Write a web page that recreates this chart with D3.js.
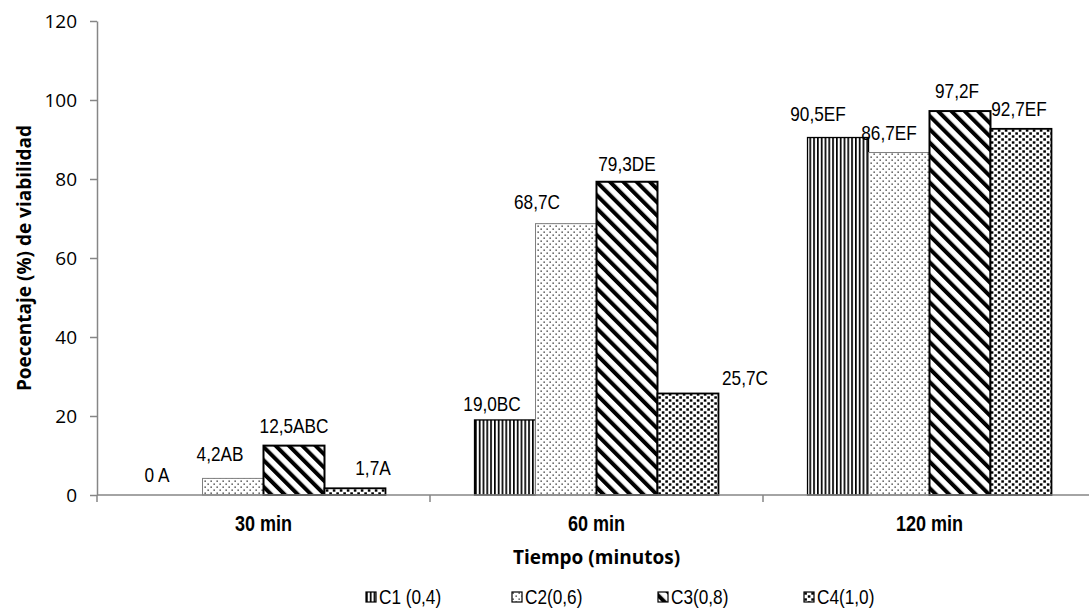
<!DOCTYPE html>
<html>
<head>
<meta charset="utf-8">
<script src="https://cdn.jsdelivr.net/npm/d3@7"></script>
<style>
  body { margin: 0; background: #fff; }
  svg { display: block; }
</style>
</head>
<body>
<div id="chart"></div>
<script>
// data
const categories = ["30 min", "60 min", "120 min"];
const seriesNames = ["C1 (0,4)", "C2(0,6)", "C3(0,8)", "C4(1,0)"];
const c1 = [0, 19.0, 90.5];
const c2 = [4.2, 68.7, 86.7];
const c3 = [12.5, 79.3, 97.2];
const c4 = [1.7, 25.7, 92.7];
const letters = [
  ["A", "AB", "ABC", "A"],
  ["BC", "C", "DE", "C"],
  ["EF", "EF", "F", "EF"]
];
const yTicks = [0, 20, 40, 60, 80, 100, 120];

// manual label nudges (the original labels were dragged by hand)
const labelDx = [[-15, -13, 0, 18], [-13, -29, 0, 57], [-20, -10, -3, -2]];
const labelDy = [[0, 4, 0, 0], [-4, 2, -2, -5], [4, 0, 0, 0]];

const width = 1089, height = 616;
const values = [c1, c2, c3, c4];

const fmt = v => v === 0 ? "0 " : d3.format(".1f")(v).replace(".", ",");

const rows = [];
categories.forEach((cat, ci) => {
  seriesNames.forEach((s, si) => {
    rows.push({cat, ci, s, si, v: values[si][ci]});
  });
});

const svg = d3.select("#chart").append("svg")
  .attr("width", width)
  .attr("height", height);

// no narrow font installed, so squeeze Liberation Sans instead
const narrow = 0.82;
const narrowFont = "'Liberation Sans', Arial, sans-serif";

// fill patterns
const defs = svg.append("defs");

const p1 = defs.append("pattern").attr("id", "pat0")
  .attr("patternUnits", "userSpaceOnUse").attr("width", 3.8).attr("height", 4);
p1.append("rect").attr("width", 3.8).attr("height", 4).attr("fill", "#fff");
p1.append("rect").attr("width", 1.7).attr("height", 4).attr("fill", "#000");

const p2 = defs.append("pattern").attr("id", "pat1")
  .attr("patternUnits", "userSpaceOnUse").attr("width", 6).attr("height", 6);
p2.append("rect").attr("width", 6).attr("height", 6).attr("fill", "#fff");
p2.append("rect").attr("x", 0.5).attr("y", 0.5).attr("width", 1.3).attr("height", 1.3).attr("fill", "#222");
p2.append("rect").attr("x", 3.5).attr("y", 3.5).attr("width", 1.3).attr("height", 1.3).attr("fill", "#222");

const p3 = defs.append("pattern").attr("id", "pat2")
  .attr("patternUnits", "userSpaceOnUse").attr("width", 9.4).attr("height", 10)
  .attr("patternTransform", "rotate(-45)");
p3.append("rect").attr("width", 9.4).attr("height", 10).attr("fill", "#fff");
p3.append("rect").attr("width", 4).attr("height", 10).attr("fill", "#000");

const p4 = defs.append("pattern").attr("id", "pat3")
  .attr("patternUnits", "userSpaceOnUse").attr("width", 7).attr("height", 6);
p4.append("rect").attr("width", 7).attr("height", 6).attr("fill", "#fff");
p4.append("rect").attr("x", 0.3).attr("y", 0.3).attr("width", 2.6).attr("height", 2.4).attr("fill", "#000");
p4.append("rect").attr("x", 3.8).attr("y", 3.3).attr("width", 2.6).attr("height", 2.4).attr("fill", "#000");

const strokes = ["#000", "#7f7f7f", "#000", "#000"];
const strokeW = [1.3, 1, 2, 1.8];

// scales
const x0 = d3.scaleBand().domain(categories).range([97, 1096]).paddingInner(0).paddingOuter(0);
const x1 = d3.scaleBand().domain(seriesNames).range([0, x0.bandwidth()]).paddingInner(0).paddingOuter(0.73);
const y = d3.scaleLinear().domain([0, 120]).range([495, 21]);

const axisColor = "#868686";

// y axis
const yAxis = svg.append("g")
  .attr("transform", "translate(97,0)")
  .call(d3.axisLeft(y).tickValues(yTicks).tickSize(7).tickSizeOuter(0).tickPadding(13));
yAxis.select(".domain").attr("stroke", axisColor).attr("stroke-width", 1.5);
yAxis.selectAll(".tick line").attr("stroke", axisColor).attr("stroke-width", 1.5);
yAxis.selectAll(".tick text")
  .attr("font-family", "'Open Sans', sans-serif")
  .attr("font-size", 19)
  .attr("fill", "#000");

// bars
svg.append("g").selectAll("rect")
  .data(rows.filter(d => d.v > 0))
  .join("rect")
  .attr("x", d => x0(d.cat) + x1(d.s))
  .attr("y", d => y(d.v))
  .attr("width", x1.bandwidth())
  .attr("height", d => y(0) - y(d.v))
  .attr("fill", d => `url(#pat${d.si})`)
  .attr("stroke", d => strokes[d.si])
  .attr("stroke-width", d => strokeW[d.si]);

// x axis
svg.append("line")
  .attr("x1", 97).attr("x2", 1096)
  .attr("y1", y(0)).attr("y2", y(0))
  .attr("stroke", axisColor).attr("stroke-width", 1.5);
const bounds = categories.map(c => x0(c)).concat([x0.range()[1]]);
svg.append("g").selectAll("line")
  .data(bounds)
  .join("line")
  .attr("x1", d => d).attr("x2", d => d)
  .attr("y1", y(0)).attr("y2", y(0) + 7)
  .attr("stroke", axisColor).attr("stroke-width", 1.5);

svg.append("g").selectAll("g")
  .data(categories)
  .join("g")
  .attr("transform", d => `translate(${x0(d) + x0.bandwidth() / 2},531) scale(${narrow},1)`)
  .append("text")
  .attr("text-anchor", "middle")
  .attr("font-family", narrowFont)
  .attr("font-weight", "bold")
  .attr("font-size", 22)
  .text(d => d);

// data labels
svg.append("g").selectAll("g")
  .data(rows)
  .join("g")
  .attr("transform", d => {
    const lx = x0(d.cat) + x1(d.s) + x1.bandwidth() / 2 + labelDx[d.ci][d.si];
    const ly = y(d.v) - 13 - labelDy[d.ci][d.si];
    return `translate(${lx},${ly}) scale(${narrow},1)`;
  })
  .append("text")
  .attr("text-anchor", "middle")
  .attr("font-family", narrowFont)
  .attr("font-size", 21)
  .text(d => fmt(d.v) + letters[d.ci][d.si]);

// axis titles
svg.append("text")
  .attr("transform", `translate(31,${(y(0) + y(120)) / 2}) rotate(-90)`)
  .attr("text-anchor", "middle")
  .attr("font-family", "'Open Sans', sans-serif")
  .attr("font-weight", "bold")
  .attr("font-size", 19)
  .text("Poecentaje (%) de viabilidad");

svg.append("text")
  .attr("x", (97 + 1096) / 2)
  .attr("y", 564)
  .attr("text-anchor", "middle")
  .attr("font-family", "'Open Sans', sans-serif")
  .attr("font-weight", "bold")
  .attr("font-size", 19)
  .text("Tiempo (minutos)");

// legend
const legend = svg.append("g").selectAll("g")
  .data(seriesNames)
  .join("g")
  .attr("transform", (d, i) => `translate(${366 + i * 146},598)`);
legend.append("rect")
  .attr("x", 0).attr("y", -6)
  .attr("width", 10).attr("height", 10)
  .attr("fill", (d, i) => `url(#pat${i})`)
  .attr("stroke", "#000")
  .attr("stroke-width", 1.2);
legend.append("text")
  .attr("transform", `translate(13,6) scale(${narrow},1)`)
  .attr("font-family", narrowFont)
  .attr("font-size", 21)
  .text(d => d);
</script>
</body>
</html>
